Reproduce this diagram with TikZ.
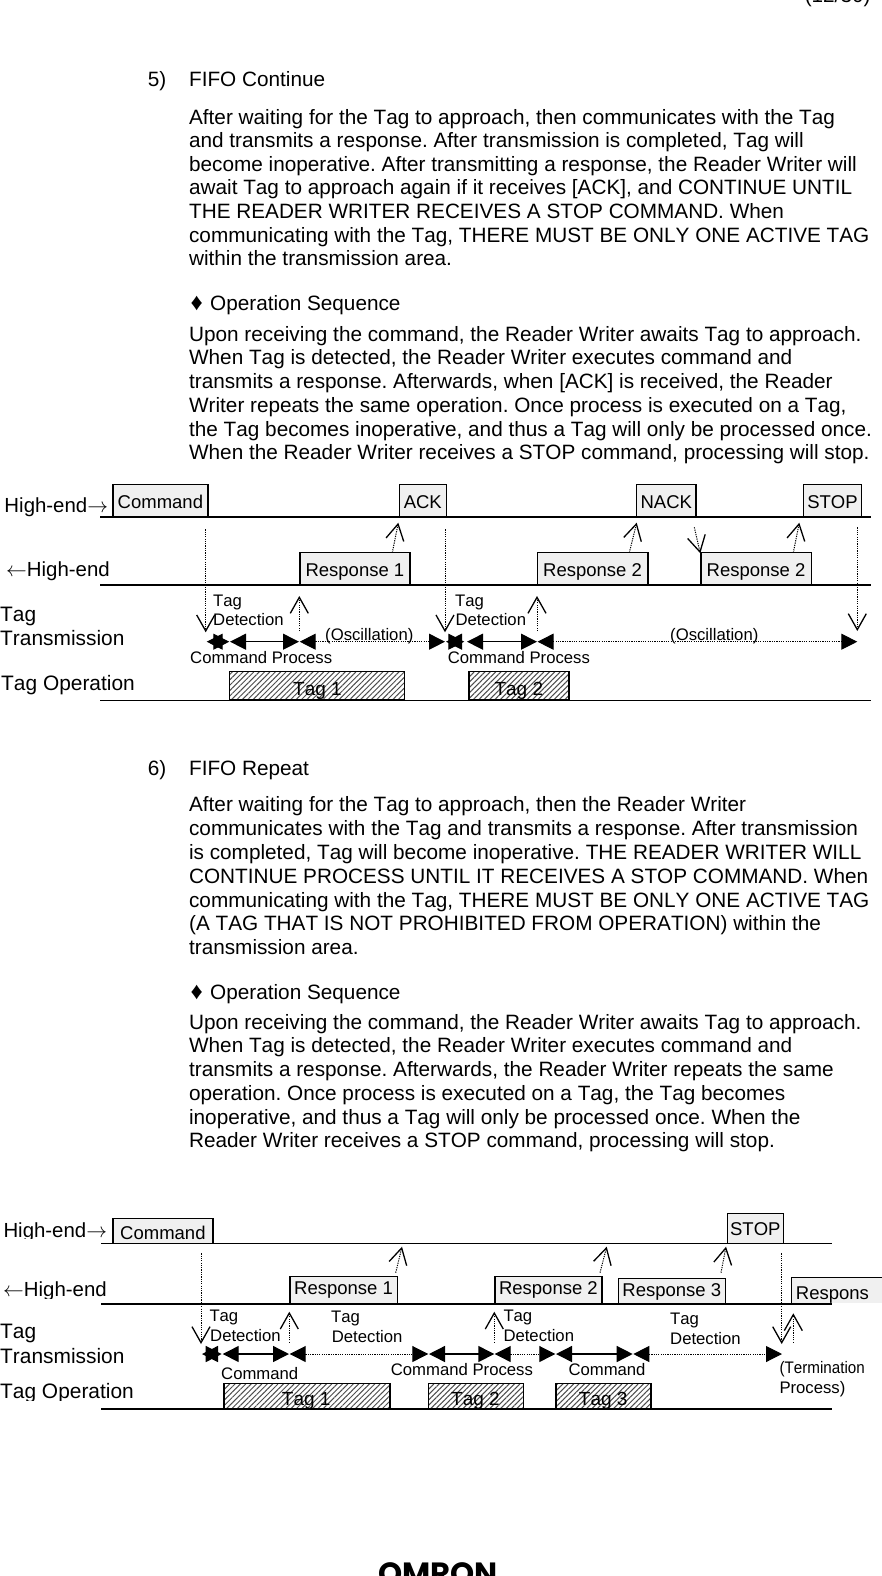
\documentclass[tikz,border=0pt]{standalone}
\usepackage{fontspec}
\setmainfont[Kerning=Off]{Liberation Sans}
\newfontfamily\logofont{Poppins}
\usetikzlibrary{arrows.meta,patterns.meta}

\frenchspacing
\newcommand{\bodysize}{\fontsize{20.75}{23.7}\selectfont}
\newcommand{\boxsize}{\fontsize{18.5}{22}\selectfont}
\newcommand{\notesize}{\fontsize{16.7}{20}\selectfont}

\tikzset{
    txt/.style={anchor=base west, inner sep=0pt},
    para/.style={anchor=north west, inner sep=0pt, align=left, font=\bodysize},
    bodytxt/.style={txt, font=\bodysize},
    sidetxt/.style={txt, font=\fontsize{20.4}{24}\selectfont},
    rowtxt/.style={txt, font=\fontsize{20.9}{24}\selectfont},
    notetxt/.style={txt, font=\notesize},
    tagtxt/.style={txt, font=\fontsize{19}{22}\selectfont},
    dmd/.style={txt, font=\fontsize{24}{26}\selectfont},
    msgbox/.style={draw, fill=black!6, anchor=south west, inner sep=0pt, line width=1.2pt,
        font=\boxsize, text height=16pt, text depth=0pt},
    tagbox/.style={draw, anchor=south west, inner sep=0pt, line width=1.2pt,
        pattern={Lines[angle=45,distance=3.8pt,line width=1pt]}, pattern color=black!70},
    rail/.style={line width=1.5pt},
    signal/.style={line width=1pt, dash pattern=on 1.2pt off 1.1pt,
        -{Straight Barb[length=16pt,width=18pt,line width=1.3pt]}},
    hold/.style={line width=1pt, {Triangle[length=16pt,width=16pt]}-{Triangle[length=16pt,width=16pt]}},
    idle/.style={hold, dash pattern=on 1.2pt off 1.1pt},
}

\begin{document}
\begin{tikzpicture}[x=1pt, y=-1pt]
    \useasboundingbox (0,0) rectangle (881,1576);

    \node[bodytxt, anchor=base east] (pageno) at (870.7,3) {(12/30)};

    % FIFO Continue text
    \node[bodytxt] (numA) at (147.7,87) {5)};
    \node[bodytxt] (headA) at (188.9,87) {FIFO Continue};
    \node[para, font=\fontsize{20.75}{23.6}\selectfont] (paraA) at (188.9,108.8) {After waiting for the Tag to approach, then communicates with the Tag\\
        and transmits a response. After transmission is completed, Tag will\\
        become inoperative. After transmitting a response, the Reader Writer will\\
        await Tag to approach again if it receives [ACK], and CONTINUE UNTIL\\
        THE READER WRITER RECEIVES A STOP COMMAND. When\\
        communicating with the Tag, THERE MUST BE ONLY ONE ACTIVE TAG\\
        within the transmission area.};
    \node[dmd] (bulletA) at (190.5,310) {♦};
    \node[bodytxt] (seqA) at (210,310) {Operation Sequence};
    \node[para] (paraB) at (188.9,326) {Upon receiving the command, the Reader Writer awaits Tag to approach.\\
        When Tag is detected, the Reader Writer executes command and\\
        transmits a response. Afterwards, when [ACK] is received, the Reader\\
        Writer repeats the same operation. Once process is executed on a Tag,\\
        the Tag becomes inoperative, and thus a Tag will only be processed once.\\
        When the Reader Writer receives a STOP command, processing will stop.};

    % first timing chart
    \node[sidetxt] (highA) at (4.3,512.7) {High-end$\rightarrow$};
    \node[sidetxt] (lowA) at (6,576) {$\leftarrow$High-end};
    \node[rowtxt] (txA) at (0,621.7) {Tag};
    \node[rowtxt] (txB) at (0,645.3) {Transmission};
    \node[rowtxt] (opA) at (1,690.7) {Tag Operation};

    \coordinate (railAa) at (100,517);
    \coordinate (railAb) at (871,517);
    \coordinate (railBa) at (100,585);
    \coordinate (railBb) at (871,585);
    \coordinate (railCa) at (100,700);
    \coordinate (railCb) at (871,700);
    \draw[rail] (railAa) -- (railAb);
    \draw[rail] (railBa) -- (railBb);
    \draw[rail, line width=1pt] (railCa) -- (railCb);

    \node[msgbox, minimum width=95pt, minimum height=31.7pt] (cmdA) at (112.3,517) {Command};
    \node[msgbox, minimum width=47pt, minimum height=31.7pt] (ackA) at (398.7,517) {ACK};
    \node[msgbox, minimum width=59.3pt, minimum height=31.7pt] (nackA) at (636,517) {NACK};
    \node[msgbox, minimum width=58.3pt, minimum height=31.7pt] (stopA) at (802.7,517) {STOP};
    \node[msgbox, minimum width=110pt, minimum height=31.7pt] (respA) at (299.3,585) {Response 1};
    \node[msgbox, minimum width=110.6pt, minimum height=31.7pt] (respB) at (536.7,585) {Response 2};
    \node[msgbox, minimum width=110.4pt, minimum height=31.7pt] (respC) at (700.3,585) {Response 2};

    \node[tagbox, minimum width=175pt, minimum height=27.7pt] (tagA) at (229.3,700) {};
    \node[tagbox, minimum width=100pt, minimum height=27.7pt] (tagB) at (468.3,700) {};
    \node[tagtxt] (opTagA) at (293,695) {Tag 1};
    \node[tagtxt] (opTagB) at (494.3,695) {Tag 2};

    \foreach \nm/\x/\y in {sa/205.7/529.3, sb/205.7/632.3, sc/299.3/631, sd/299.3/596,
            se/392.3/552.7, sf/398.3/522.7, sg/445/529.3, sh/445/632.3,
            si/537/631, sj/537/596, sk/629.3/552.7, sl/636.7/522.7,
            sm/694.3/527.3, sn/700.3/553.3, so/793.3/552.7, sp/799.3/522.7,
            sq/857.3/527.3, sr/857.3/631} {
        \coordinate (\nm) at (\x,\y);
    }
    \foreach \from/\to in {sa/sb, sc/sd, se/sf, sg/sh, si/sj, sk/sl, sm/sn, so/sp, sq/sr} {
        \draw[signal] (\from) -- (\to);
    }

    \foreach \nm/\x in {ta/206.7, tb/229.3, tc/230, td/299, te/299.7, tf/445,
            tg/446, th/464.3, ti/467, tj/537, tk/537.5, tl/857.3} {
        \coordinate (\nm) at (\x,641.7);
    }
    \foreach \from/\to in {ta/tb, tc/td, tg/th, ti/tj} {
        \draw[hold] (\from) -- (\to);
    }
    \foreach \from/\to in {te/tf, tk/tl} {
        \draw[idle] (\from) -- (\to);
    }

    \node[notetxt] (tagDa) at (213,606) {Tag};
    \node[notetxt] (detDa) at (213,625.7) {Detection};
    \node[notetxt] (oscA) at (325,640) {(Oscillation)};
    \node[notetxt] (cmdPa) at (190,663.3) {Command Process};
    \node[notetxt] (tagDb) at (455,606) {Tag};
    \node[notetxt] (detDb) at (455.3,625.7) {Detection};
    \node[notetxt] (oscB) at (670,640) {(Oscillation)};
    \node[notetxt] (cmdPb) at (447.7,663.3) {Command Process};

    % FIFO Repeat text
    \node[bodytxt] (numB) at (147.7,775.6) {6)};
    \node[bodytxt] (headB) at (188.9,775.6) {FIFO Repeat};
    \node[para, font=\fontsize{20.75}{23.83}\selectfont] (paraC) at (188.9,796.5) {After waiting for the Tag to approach, then the Reader Writer\\
        communicates with the Tag and transmits a response. After transmission\\
        is completed, Tag will become inoperative. THE READER WRITER WILL\\
        CONTINUE PROCESS UNTIL IT RECEIVES A STOP COMMAND. When\\
        communicating with the Tag, THERE MUST BE ONLY ONE ACTIVE TAG\\
        (A TAG THAT IS NOT PROHIBITED FROM OPERATION) within the\\
        transmission area.};
    \node[dmd] (bulletB) at (190.5,999) {♦};
    \node[bodytxt] (seqB) at (210,999) {Operation Sequence};
    \node[para] (paraD) at (188.9,1014) {Upon receiving the command, the Reader Writer awaits Tag to approach.\\
        When Tag is detected, the Reader Writer executes command and\\
        transmits a response. Afterwards, the Reader Writer repeats the same\\
        operation. Once process is executed on a Tag, the Tag becomes\\
        inoperative, and thus a Tag will only be processed once. When the\\
        Reader Writer receives a STOP command, processing will stop.};

    % second timing chart
    \node[tagbox, minimum width=166pt, minimum height=25pt] (tagC) at (223.3,1409) {};
    \node[tagbox, minimum width=95pt, minimum height=25pt] (tagD) at (427.7,1409) {};
    \node[tagbox, minimum width=95pt, minimum height=25pt] (tagE) at (555.3,1409) {};

    \begin{scope}
        \clip (0,1205) rectangle (112,1238) (0,1265) rectangle (112,1298) (0,1370) rectangle (140,1400)
            (223,1380) rectangle (660,1408.5);
        \node[sidetxt] (highB) at (3.3,1237.3) {High-end$\rightarrow$};
        \node[sidetxt] (lowB) at (3,1296.7) {$\leftarrow$High-end};
        \node[rowtxt] (opB) at (0,1398.3) {Tag Operation};
        \node[tagtxt] (opTagC) at (281.7,1405) {Tag 1};
        \node[tagtxt] (opTagD) at (451,1405) {Tag 2};
        \node[tagtxt] (opTagE) at (578.7,1405) {Tag 3};
    \end{scope}
    \node[rowtxt] (txC) at (0,1338.3) {Tag};
    \node[rowtxt] (txD) at (0,1363.3) {Transmission};

    \coordinate (railDa) at (101,1243.7);
    \coordinate (railDb) at (832.3,1243.7);
    \coordinate (railEa) at (101,1304);
    \coordinate (railEb) at (832.3,1304);
    \coordinate (railFa) at (101,1409);
    \coordinate (railFb) at (832.3,1409);
    \draw[rail] (railDa) -- (railDb);
    \draw[rail] (railEa) -- (railEb);
    \draw[rail] (railFa) -- (railFb);

    \node[msgbox, minimum width=100pt, minimum height=25pt, text height=17.6pt] (cmdB) at (112.3,1243.7) {Command};
    \node[msgbox, minimum width=56pt, minimum height=29.4pt, text height=13.4pt] (stopB) at (726.7,1243.7) {STOP};
    \node[msgbox, minimum width=107.4pt, minimum height=26.7pt, text height=8.7pt] (respD) at (289.3,1304) {Response 1};
    \node[msgbox, minimum width=107pt, minimum height=26.7pt, text height=8.7pt] (respE) at (494.3,1304) {Response 2};
    \node[msgbox, minimum width=107pt, minimum height=25.3pt, text height=10.7pt] (respF) at (617.7,1304) {Response 3};
    \node[msgbox, draw=none, minimum width=91pt, minimum height=25.3pt, text height=18pt] (respG) at (791.7,1304) {Respons\kern10.8pt};
    \draw[line width=1.2pt] (respG.south west) -- (respG.north west) -- (respG.north east);

    \foreach \nm/\x/\y in {ua/201/1253.3, ub/201/1344, uc/289.3/1342.7, ud/289.3/1311.7,
            ue/395.7/1272.7, uf/402/1246.7, ug/600/1272.7, uh/606.7/1246.7,
            ui/721/1272.7, uj/726/1246.7, uk/494.3/1342.7, ul/494.3/1311.7,
            um/781.7/1253.3, un/781.7/1344, uo/793.3/1342.7, up/793.3/1313.3} {
        \coordinate (\nm) at (\x,\y);
    }
    \foreach \from/\to in {ua/ub, uc/ud, ue/uf, ug/uh, ui/uj, uk/ul, um/un, uo/up} {
        \draw[signal] (\from) -- (\to);
    }

    \foreach \nm/\x in {va/202, vb/221.7, vc/222.7, vd/289, ve/289.7, vf/428.3, vg/429, vh/494.3,
            vi/494.7, vj/555.3, vk/556, vl/632.7, vm/633.3, vn/782} {
        \coordinate (\nm) at (\x,1354);
    }
    \foreach \from/\to in {va/vb, vc/vd, vg/vh, vk/vl} {
        \draw[hold, line width=1.4pt] (\from) -- (\to);
    }
    \foreach \from/\to in {ve/vf, vi/vj, vm/vn} {
        \draw[idle] (\from) -- (\to);
    }

    \node[notetxt] (tagDc) at (209.3,1321.7) {Tag};
    \node[notetxt] (detDc) at (210,1341.3) {Detection};
    \node[notetxt] (tagDd) at (331,1322.3) {Tag};
    \node[notetxt] (detDd) at (331.7,1342.3) {Detection};
    \node[notetxt] (tagDe) at (503.3,1321.7) {Tag};
    \node[notetxt] (detDe) at (503.3,1341.3) {Detection};
    \node[notetxt] (tagDf) at (670,1324) {Tag};
    \node[notetxt] (detDf) at (670,1344) {Detection};
    \node[notetxt] (cmdC) at (221,1379.3) {Command};
    \node[notetxt] (cmdPc) at (390.7,1375.7) {Command Process};
    \node[notetxt] (cmdD) at (568.3,1375.7) {Command};
    \node[notetxt] (termA) at (779.3,1373) {\scalebox{.91}[1]{(Termination}};
    \node[notetxt] (termB) at (779.3,1393.3) {Process)};

    \node[txt, font=\logofont\bfseries\fontsize{30.7}{34}\selectfont] (logo) at (378,1584) {OMRON};
\end{tikzpicture}
\end{document}
